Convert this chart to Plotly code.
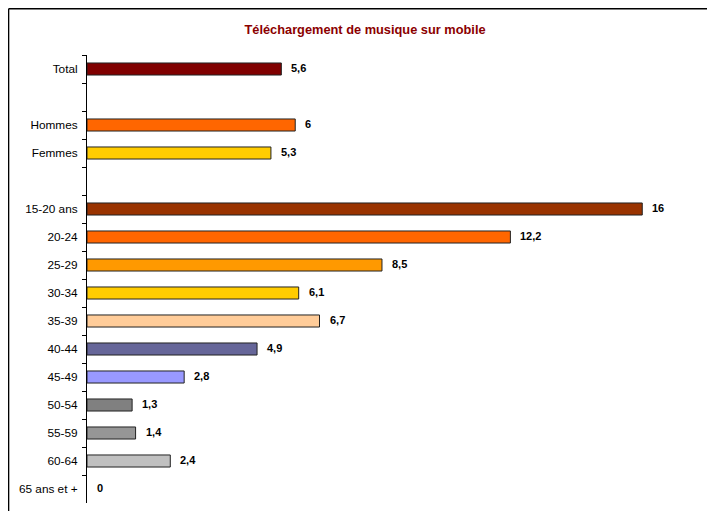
import plotly.graph_objects as go

# categories (blank entries are the gaps between groups)
categories = ["Total", " ", "Hommes", "Femmes", "  ",
              "15-20 ans", "20-24", "25-29", "30-34", "35-39", "40-44",
              "45-49", "50-54", "55-59", "60-64", "65 ans et +"]
values = [5.6, None, 6, 5.3, None,
          16, 12.2, 8.5, 6.1, 6.7, 4.9, 2.8, 1.3, 1.4, 2.4, 0]
bar_colors = ["#800000", "#FFFFFF", "#FF6600", "#FFCC00", "#FFFFFF",
              "#993300", "#FF6600", "#FF9900", "#FFCC00", "#FFCC99", "#666699",
              "#9999FF", "#808080", "#969696", "#C0C0C0", "#C0C0C0"]

TITLE = "Téléchargement de musique sur mobile"
FONT = "Liberation Sans, Arial, sans-serif"


def fr(v):
    return f"{v:g}".replace(".", ",")


# no outline on empty bars
outline_w = [1 if v else 0 for v in values]

fig = go.Figure()
fig.add_trace(go.Bar(
    x=values,
    y=categories,
    orientation="h",
    marker=dict(color=bar_colors, line=dict(color="#222222", width=outline_w)),
    width=0.43,
    hoverinfo="skip",
))

# value labels just past the bar end
for cat, v in zip(categories, values):
    if v is None:
        continue
    fig.add_annotation(
        x=v, y=cat, text=fr(v), showarrow=False,
        xanchor="left", xshift=8, yshift=1,
        font=dict(family=FONT, size=11, color="#000000", weight="bold"),
    )

# page body has an 8px margin, so the figure is drawn 8px smaller
fig.update_layout(
    width=707, height=503,
    margin=dict(l=79, r=20, t=47, b=8),
    paper_bgcolor="white",
    plot_bgcolor="white",
    showlegend=False,
    title=dict(
        text=TITLE, x=0.505, xanchor="center", y=0.958, yanchor="middle",
        font=dict(family=FONT, size=12.8, color="#8B0000", weight="bold"),
    ),
    font=dict(family=FONT, size=11, color="#000000"),
    shapes=[
        dict(type="line", xref="paper", yref="paper",
             x0=-0.129, x1=1.04, y0=1.103, y1=1.103,
             line=dict(color="#000000", width=1.5)),
        dict(type="line", xref="paper", yref="paper",
             x0=-0.129, x1=-0.129, y0=1.103, y1=-0.03,
             line=dict(color="#000000", width=1.5)),
    ],
)
fig.update_xaxes(range=[0, 17.52], visible=False, fixedrange=True)
fig.update_yaxes(
    type="category",
    categoryorder="array", categoryarray=categories,
    autorange="reversed",
    showline=True, linecolor="#000000", linewidth=1,
    ticks="outside", tickson="boundaries", ticklen=4, tickcolor="#000000",
    showgrid=False, zeroline=False,
    tickfont=dict(family=FONT, size=11.8, color="#000000"),
    ticklabelstandoff=6,
)

fig.write_html("out.html")
